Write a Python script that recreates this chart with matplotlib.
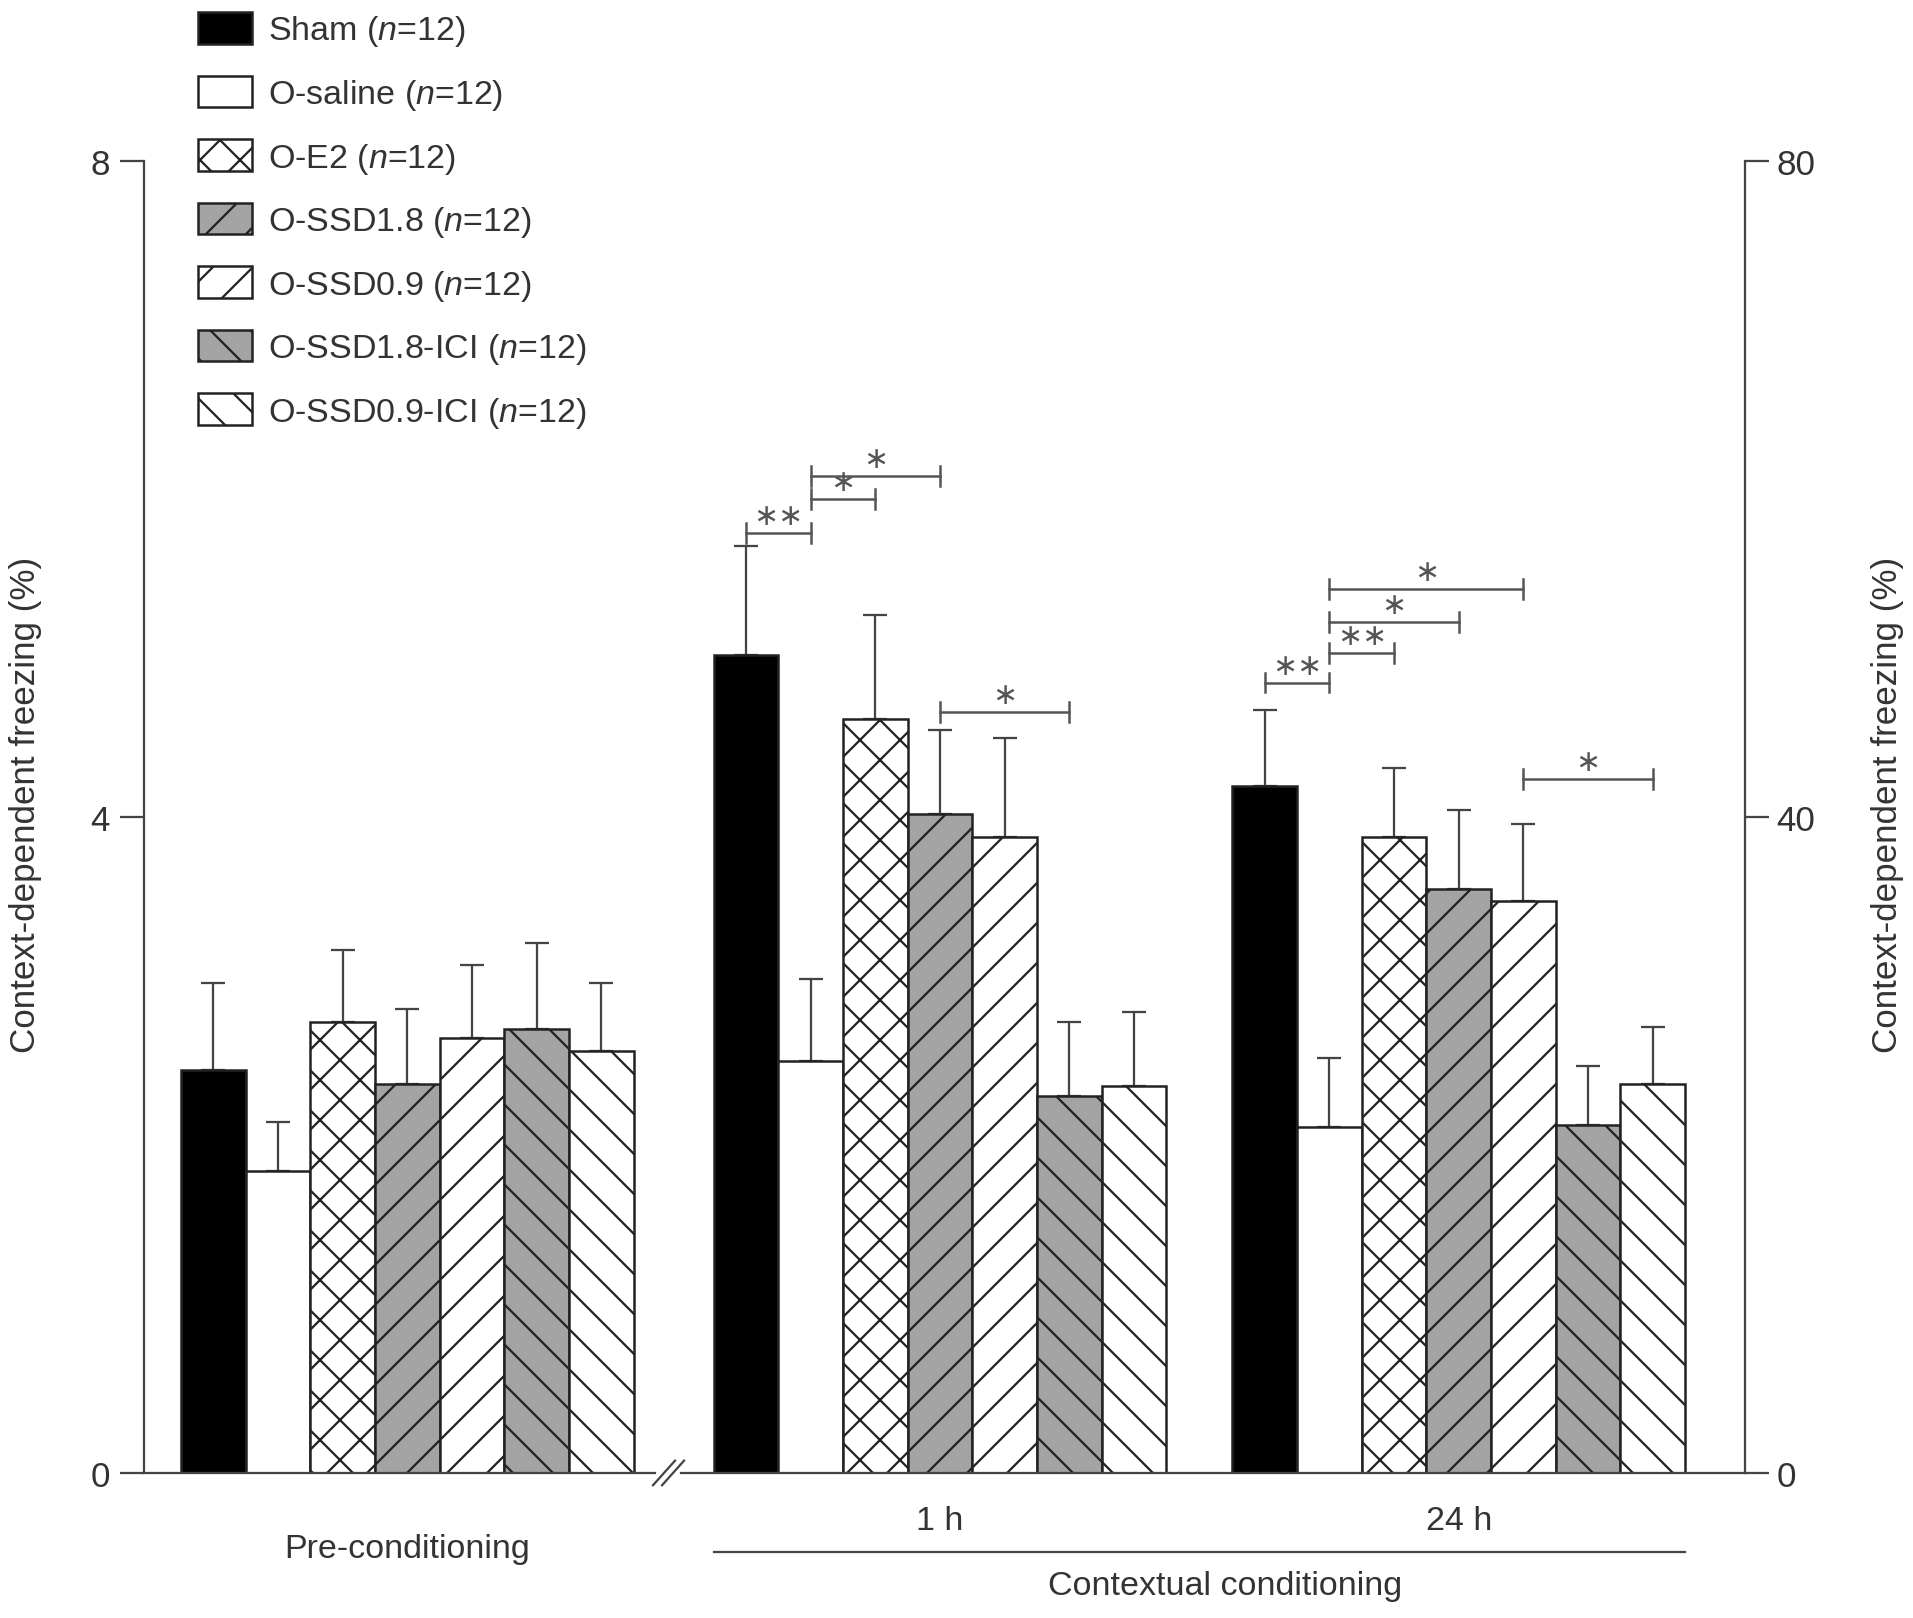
import numpy as np
import matplotlib
matplotlib.use('Agg')
import matplotlib.pyplot as plt

plt.rcParams['font.family'] = ['Liberation Sans', 'DejaVu Sans']
plt.rcParams['mathtext.fontset'] = 'custom'
plt.rcParams['mathtext.it'] = 'Liberation Sans:italic'
plt.rcParams['mathtext.rm'] = 'Liberation Sans'
plt.rcParams['hatch.linewidth'] = 0.45

# data (left axis units)
groups = ['Pre-conditioning', '1 h', '24 h']
series = ['Sham', 'O-saline', 'O-E2', 'O-SSD1.8', 'O-SSD0.9', 'O-SSD1.8-ICI', 'O-SSD0.9-ICI']
n_animals = [12, 12, 12, 12, 12, 12, 12]

pre_mean = [2.46, 1.84, 2.75, 2.37, 2.65, 2.71, 2.57]
pre_sem = [0.53, 0.30, 0.44, 0.46, 0.45, 0.52, 0.42]
h1_mean = [4.99, 2.51, 4.60, 4.02, 3.88, 2.30, 2.36]
h1_sem = [0.66, 0.50, 0.63, 0.51, 0.60, 0.45, 0.45]
h24_mean = [4.19, 2.11, 3.88, 3.56, 3.49, 2.12, 2.37]
h24_sem = [0.46, 0.42, 0.42, 0.48, 0.47, 0.36, 0.35]

# significance brackets: group index, bar a, bar b, height, label
sig_group = [1, 1, 1, 1, 2, 2, 2, 2, 2]
sig_a = [0, 1, 1, 3, 0, 1, 1, 1, 4]
sig_b = [1, 2, 3, 5, 1, 2, 3, 4, 6]
sig_y = [5.73, 5.94, 6.08, 4.64, 4.82, 5.00, 5.19, 5.39, 4.23]
sig_text = ['∗∗', '∗', '∗', '∗', '∗∗', '∗∗', '∗', '∗', '∗']

# styling
fills = ['black', 'white', 'white', '#a3a3a3', 'white', '#a3a3a3', 'white']
hatches = [None, None, 'xxx', '///', '///', '\\\\\\', '\\\\\\']
group_start = [0.57, 8.81, 16.83]
edge = '#222222'
axcol = '#444444'
txtcol = '#333333'
fs = 6.8

means = [pre_mean, h1_mean, h24_mean]
sems = [pre_sem, h1_sem, h24_sem]

fig = plt.figure(figsize=(1913 / 360, 1619 / 360), dpi=360)
ax = fig.add_axes([0.0753, 0.0896, 0.9120 - 0.0753, 0.8999 - 0.0896])

handles = []
for i, name in enumerate(series):
    xs = [g + i + 0.5 for g in group_start]
    ys = [m[i] for m in means]
    es = [s[i] for s in sems]
    b = ax.bar(xs, ys, width=1.0, color=fills[i], edgecolor=edge, linewidth=0.5,
               hatch=hatches[i], label=f'{name} ($n$={n_animals[i]})', zorder=2)
    handles.append(b)
    ax.errorbar(xs, ys, yerr=[np.zeros(3), es], fmt='none', ecolor=axcol,
                elinewidth=0.45, capsize=2.4, capthick=0.45, zorder=1)

ax.set_xlim(0, 24.75)
ax.set_ylim(0, 8)
ax.set_yticks([0, 4, 8])
ax.set_xticks([])
for s in ['top', 'right', 'bottom']:
    ax.spines[s].set_visible(False)
ax.spines['left'].set_color(axcol)
ax.spines['left'].set_linewidth(0.45)
ax.tick_params(axis='y', direction='out', length=4.8, width=0.45, color=axcol,
               labelsize=7, labelcolor=txtcol, pad=2)
ax.set_ylabel('Context-dependent freezing (%)', fontsize=7, color=txtcol)
ax.yaxis.set_label_coords(-0.064, 0.51)

ax2 = ax.twinx()
ax2.set_ylim(0, 80)
ax2.set_yticks([0, 40, 80])
for s in ['top', 'left', 'bottom']:
    ax2.spines[s].set_visible(False)
ax2.spines['right'].set_color(axcol)
ax2.spines['right'].set_linewidth(0.45)
ax2.tick_params(axis='y', direction='out', length=4.8, width=0.45, color=axcol,
                labelsize=7, labelcolor=txtcol, pad=1.5)
ax2.set_ylabel('Context-dependent freezing (%)', fontsize=7, color=txtcol, rotation=90)
ax2.yaxis.set_label_coords(1.079, 0.51)

# broken baseline
ax.plot([0, 7.9], [0, 0], color=axcol, lw=0.45, clip_on=False, zorder=3)
ax.plot([8.3, 24.75], [0, 0], color=axcol, lw=0.45, clip_on=False, zorder=3)
for dx in [-0.06, 0.08]:
    xm = 8.1 + dx
    ax.plot([xm - 0.17, xm + 0.17], [-0.075, 0.075], color=axcol, lw=0.45,
            clip_on=False, zorder=3)

# significance brackets
tick_h = 0.06
for g, a, b, y, t in zip(sig_group, sig_a, sig_b, sig_y, sig_text):
    x1 = group_start[g] + a + 0.5
    x2 = group_start[g] + b + 0.5
    ax.plot([x1, x2], [y, y], color='#555555', lw=0.5, zorder=3)
    ax.plot([x1, x1], [y - tick_h, y + tick_h], color='#555555', lw=0.5, zorder=3)
    ax.plot([x2, x2], [y - tick_h, y + tick_h], color='#555555', lw=0.5, zorder=3)
    ax.annotate(t, ((x1 + x2) / 2, y), xytext=(0, 0.6), textcoords='offset points',
                ha='center', va='bottom', fontsize=6, color='#555555')

# group labels
tr = ax.get_xaxis_transform()
ax.text(group_start[0] + 3.5, -0.0577, groups[0], transform=tr, ha='center', va='center',
        fontsize=fs, color=txtcol)
ax.text(group_start[1] + 3.5, -0.0363, groups[1], transform=tr, ha='center', va='center',
        fontsize=fs, color=txtcol)
ax.text(group_start[2] + 3.5, -0.0363, groups[2], transform=tr, ha='center', va='center',
        fontsize=fs, color=txtcol)
ax.plot([group_start[1], group_start[2] + 7], [-0.0605, -0.0605], transform=tr,
        color=axcol, lw=0.45, clip_on=False)
ax.text((group_start[1] + group_start[2] + 7) / 2 + 0.4, -0.0856, 'Contextual conditioning',
        transform=tr, ha='center', va='center', fontsize=fs, color=txtcol)

fig.legend(handles, [h.get_label() for h in handles], loc='upper left',
           bbox_to_anchor=(198 / 1913, 1 - 13 / 1619), frameon=False, fontsize=fs,
           handlelength=1.6, handleheight=1.05, handletextpad=0.47, labelspacing=0.8,
           borderpad=0, borderaxespad=0, labelcolor=txtcol)

fig.savefig('out.png', dpi=360)
